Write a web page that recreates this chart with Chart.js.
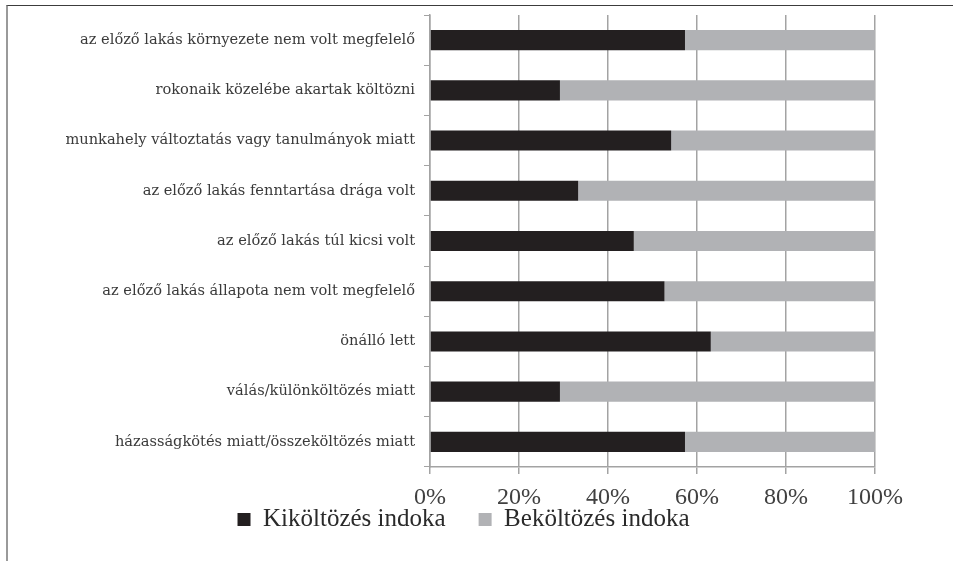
<!DOCTYPE html>
<html>
<head>
<meta charset="utf-8">
<script src="https://cdn.jsdelivr.net/npm/chart.js@4"></script>
<style>
  html, body { margin: 0; padding: 0; background: #fff; }
  body { width: 953px; height: 561px; position: relative; overflow: hidden; }
  #frame {
    position: absolute; left: 6px; top: 5px; right: 0; bottom: 0;
    border-top: 1px solid #3c3c3c; border-left: 2px solid #9a9a9a;
  }
  #wrap { position: absolute; left: 8px; top: 6px; width: 902px; height: 571px; }
</style>
</head>
<body>
<div id="frame"></div>
<div id="wrap"><canvas id="chart"></canvas></div>
<script>
// categories, top to bottom
const categories = [
  'az előző lakás környezete nem volt megfelelő',
  'rokonaik közelébe akartak költözni',
  'munkahely változtatás vagy tanulmányok miatt',
  'az előző lakás fenntartása drága volt',
  'az előző lakás túl kicsi volt',
  'az előző lakás állapota nem volt megfelelő',
  'önálló lett',
  'válás/különköltözés miatt',
  'házasságkötés miatt/összeköltözés miatt'
];

// share of answers, percent
const kikoltozes = [57.3, 29.2, 54.2, 33.3, 45.8, 52.7, 63.1, 29.2, 57.3];
const bekoltozes = [42.7, 70.8, 45.8, 66.7, 54.2, 47.3, 36.9, 70.8, 42.7];

const seriesNames = ['Kiköltözés indoka', 'Beköltözés indoka'];
const xTicks = [0, 20, 40, 60, 80, 100];

const serif = '"Liberation Serif", "DejaVu Serif", serif';

// legend sits tight under the tick labels, but items are spaced wide
const legendLift = {
  id: 'legendLift',
  afterLayout(chart) {
    const lg = chart.legend;
    lg.top -= 35;
    lg.bottom -= 35;
    lg.left += 22;
    lg.right += 22;
  }
};

new Chart(document.getElementById('chart'), {
  type: 'bar',
  data: {
    labels: categories,
    datasets: [
      { label: seriesNames[0], data: kikoltozes, backgroundColor: '#231f20', borderWidth: 0 },
      { label: seriesNames[1], data: bekoltozes, backgroundColor: '#b1b2b5', borderWidth: 0 }
    ]
  },
  plugins: [legendLift],
  options: {
    indexAxis: 'y',
    responsive: true,
    maintainAspectRatio: false,
    animation: false,
    barPercentage: 0.4,
    categoryPercentage: 1,
    layout: { padding: { top: 9, bottom: 0, right: 35, left: 0 } },
    scales: {
      x: {
        stacked: true,
        min: 0,
        max: 100,
        afterBuildTicks: s => { s.ticks = xTicks.map(v => ({ value: v })); },
        afterFit: s => { s.height = 42; s.paddingRight = 0; s.paddingLeft = 0; },
        ticks: {
          callback: v => v + '%',
          color: '#404040',
          padding: 9,
          maxRotation: 0,
          font: { family: serif, size: 24 }
        },
        grid: { color: '#a3a3a3', lineWidth: 1.5, tickLength: 7 },
        border: { color: '#a3a3a3', width: 1.5 }
      },
      y: {
        stacked: true,
        afterFit: s => { s.width = 422; s.paddingTop = 0; s.paddingBottom = 0; },
        ticks: {
          color: '#3a3a3a',
          padding: 9,
          font: { family: '"DejaVu Serif", serif', size: 14.6 }
        },
        grid: { drawOnChartArea: false, color: '#a3a3a3', tickLength: 6 },
        border: { color: '#a3a3a3', width: 1.5 }
      }
    },
    plugins: {
      tooltip: { enabled: false },
      legend: {
        position: 'bottom',
        labels: {
          boxWidth: 13,
          boxHeight: 13,
          padding: 33,
          color: '#2a2a2a',
          font: { family: serif, size: 25 }
        }
      }
    }
  }
});
</script>
</body>
</html>
